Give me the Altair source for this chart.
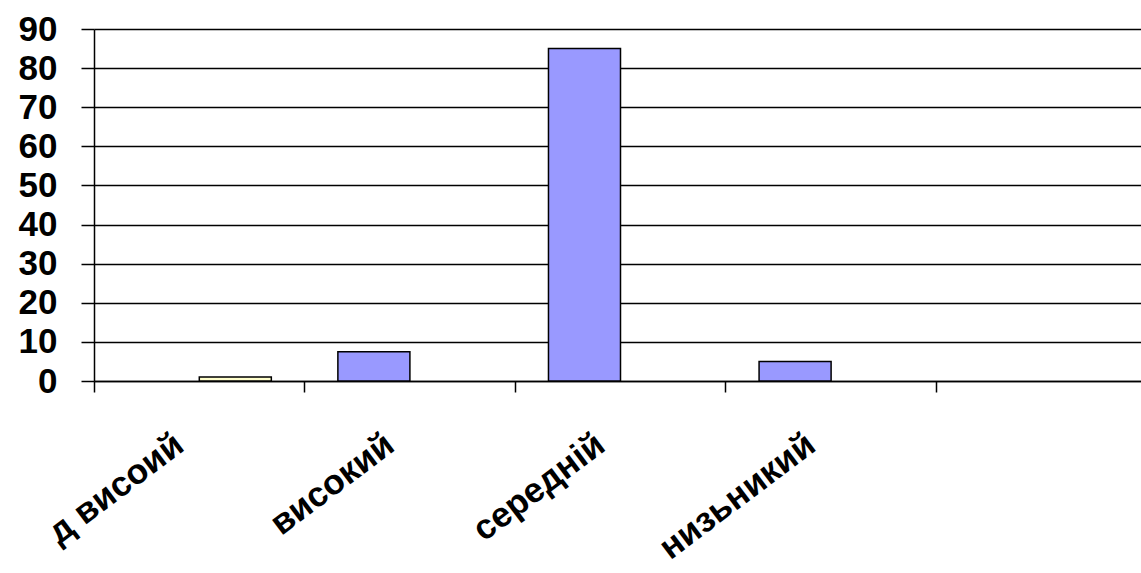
import altair as alt
import pandas as pd

# Categories along the x axis (the last slot is left empty)
categories = ["д висоий", "високий", "середній", "низьникий", " "]

# Two series shown as side-by-side bars in each category
series_names = ["Ряд1", "Ряд2"]
values_blue = [0, 7.5, 85, 5, 0]
values_yellow = [1, 0, 0, 0, 0]

# Y axis tick values
y_ticks = [0, 10, 20, 30, 40, 50, 60, 70, 80, 90]

rows = []
for cat, v in zip(categories, values_blue):
    rows.append({"cat": cat, "series": series_names[0], "value": v})
for cat, v in zip(categories, values_yellow):
    rows.append({"cat": cat, "series": series_names[1], "value": v})
df = pd.DataFrame(rows)

FONT = "Liberation Sans"

chart = (
    alt.Chart(df)
    .transform_filter("datum.value > 0")
    .mark_bar(stroke="black", strokeWidth=1.5)
    .encode(
        x=alt.X(
            "cat:N",
            sort=categories,
            scale=alt.Scale(domain=categories, range=[0, 1053], paddingInner=0, paddingOuter=0),
            axis=alt.Axis(
                title=None,
                bandPosition=0,
                grid=False,
                domainColor="black",
                domainWidth=1.5,
                tickColor="black",
                tickWidth=1.5,
                tickSize=11,
                labelAngle=-37,
                labelAlign="right",
                labelBaseline="middle",
                labelOffset=-20,
                labelPadding=48,
                labelFont=FONT,
                labelFontSize=35,
                labelFontWeight="bold",
                labelColor="black",
                labelLimit=0,
                labelOverlap=False,
                labelBound=False,
                labelFlush=False,
            ),
        ),
        xOffset=alt.XOffset(
            "series:N",
            sort=series_names,
            scale=alt.Scale(domain=series_names, paddingInner=0, paddingOuter=0.462),
        ),
        y=alt.Y(
            "value:Q",
            scale=alt.Scale(domain=[0, 90], nice=False),
            axis=alt.Axis(
                title=None,
                values=y_ticks,
                grid=True,
                gridColor="black",
                gridWidth=1.3,
                gridOpacity=1,
                domainColor="black",
                domainWidth=1.5,
                tickColor="black",
                tickWidth=1.5,
                tickSize=13,
                labelPadding=24,
                labelFont=FONT,
                labelFontSize=35,
                labelFontWeight="bold",
                labelColor="black",
                labelFlush=False,
                labelOverlap=False,
            ),
        ),
        color=alt.Color(
            "series:N",
            scale=alt.Scale(domain=series_names, range=["#9999FF", "#FFFFCC"]),
            legend=None,
        ),
    )
    .properties(
        width=1047,
        height=352,
        padding={"left": 94, "top": 29, "right": 0, "bottom": 192},
        autosize=alt.AutoSizeParams(type="none"),
    )
    .configure_view(stroke=None)
)

chart.save("out.html", embed_options={"renderer": "svg", "actions": False})
